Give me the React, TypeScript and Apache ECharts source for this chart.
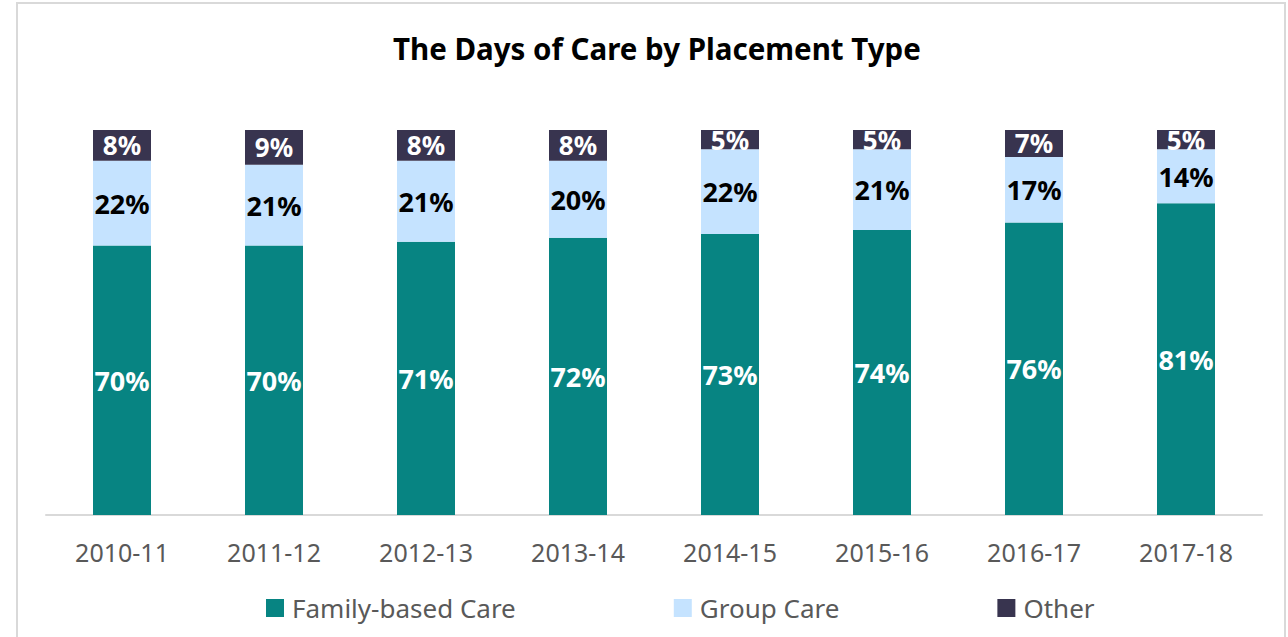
import React, { useEffect, useRef } from "react";
import * as echarts from "echarts";

const categories = ["2010-11", "2011-12", "2012-13", "2013-14", "2014-15", "2015-16", "2016-17", "2017-18"];
const familyBased = [70, 70, 71, 72, 73, 74, 76, 81];
const groupCare = [22, 21, 21, 20, 22, 21, 17, 14];
const other = [8, 9, 8, 8, 5, 5, 7, 5];

const FONT = "'Noto Sans', 'Open Sans', sans-serif";

export default function App() {
  const ref = useRef<HTMLDivElement>(null);
  useEffect(() => {
    if (!ref.current) return;
    const chart = echarts.init(ref.current, null, { renderer: "svg" });
    const label = (color: string, size: number) => ({
      show: true,
      position: "inside" as const,
      formatter: "{c}%",
      color,
      fontSize: size,
      fontWeight: "bold" as const,
      fontFamily: FONT,
    });
    chart.setOption({
      animation: false,
      backgroundColor: "#ffffff",
      textStyle: { fontFamily: FONT },
      title: {
        text: "The Days of Care by Placement Type",
        left: 388,
        top: 28,
        textStyle: { fontSize: 29.5, fontWeight: "bold", color: "#000000", fontFamily: FONT },
      },
      graphic: [
        {
          type: "rect",
          shape: { x: 17, y: 3, width: 1268, height: 700 },
          style: { fill: "none", stroke: "#d9d9d9", lineWidth: 2 },
          silent: true,
          z: -1,
        },
      ],
      grid: { left: 46, right: 26, top: 130, bottom: 122 },
      legend: {
        left: 261,
        top: 590,
        itemWidth: 18,
        itemHeight: 18,
        itemGap: 158,
        icon: "rect",
        textStyle: { fontSize: 26, color: "#595959", fontFamily: FONT, padding: [0, 0, 0, 3] },
        data: ["Family-based Care", "Group Care", "Other"],
      },
      xAxis: {
        type: "category",
        data: categories,
        axisLine: { lineStyle: { color: "#d9d9d9", width: 2 } },
        axisTick: { show: false },
        axisLabel: { fontSize: 25, color: "#595959", margin: 24, fontFamily: FONT },
      },
      yAxis: {
        type: "value",
        min: 0,
        max: 100,
        show: false,
        splitLine: { show: false },
      },
      series: [
        {
          name: "Family-based Care",
          type: "bar",
          stack: "total",
          data: familyBased,
          barWidth: 58,
          itemStyle: { color: "#078482" },
          label: label("#ffffff", 27),
        },
        {
          name: "Group Care",
          type: "bar",
          stack: "total",
          data: groupCare,
          barWidth: 58,
          itemStyle: { color: "#c5e3ff" },
          label: label("#000000", 27),
        },
        {
          name: "Other",
          type: "bar",
          stack: "total",
          data: other,
          barWidth: 58,
          itemStyle: { color: "#38344f" },
          label: label("#ffffff", 26),
        },
      ],
    });
    return () => chart.dispose();
  }, []);
  return (
    <div
      ref={ref}
      style={{ position: "fixed", left: 0, top: 0, width: 1288, height: 637 }}
    />
  );
}
